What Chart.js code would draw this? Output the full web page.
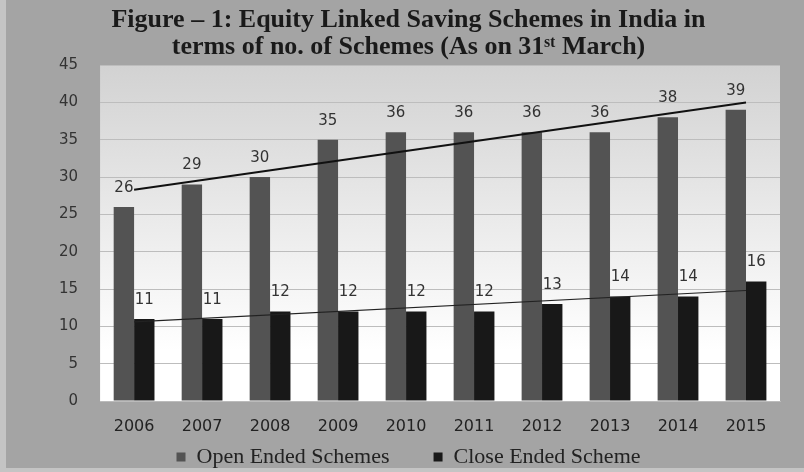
<!DOCTYPE html>
<html>
<head>
<meta charset="utf-8">
<script src="https://cdn.jsdelivr.net/npm/chart.js@4"></script>
<style>
  html, body { margin: 0; padding: 0; background: #a4a4a4; }
  #wrap { width: 804px; height: 472px; position: relative; box-sizing: border-box; border-left: 6px solid #c4c4c4; border-bottom: 4px solid #c4c4c4; }
  canvas { display: block; }
</style>
</head>
<body>
<div id="wrap"><canvas id="g1" width="798" height="468"></canvas></div>
<script>
// data
var tahun = ['2006', '2007', '2008', '2009', '2010', '2011', '2012', '2013', '2014', '2015'];
var openEnded = [26, 29, 30, 35, 36, 36, 36, 36, 38, 39];
var closeEnded = [11, 11, 12, 12, 12, 12, 13, 14, 14, 16];
// linear trend lines, only the end points as seen in the picture
var trendOpen = [28.3, null, null, null, null, null, null, null, null, 40.0];
var trendClose = [10.6, null, null, null, null, null, null, null, null, 14.8];
var yTicks = [0, 5, 10, 15, 20, 25, 30, 35, 40, 45];

// background of plot area (gray on top to white at bottom)
var plotBg = {
    id: 'plotBg',
    beforeDraw: function(chart) {
        var a = chart.chartArea, c = chart.ctx;
        var g = c.createLinearGradient(0, a.top, 0, a.bottom);
        g.addColorStop(0, '#d2d2d2');
        g.addColorStop(0.85, '#ffffff');
        g.addColorStop(1, '#ffffff');
        c.save();
        c.fillStyle = g;
        c.fillRect(a.left, a.top, a.right - a.left, a.bottom - a.top);
        c.restore();
    }
};

// value labels above the bars
var barLabels = {
    id: 'barLabels',
    afterDatasetsDraw: function(chart) {
        var c = chart.ctx;
        c.save();
        c.font = '15px "DejaVu Sans"';
        c.fillStyle = '#333';
        c.textAlign = 'center';
        c.textBaseline = 'middle';
        chart.data.datasets.forEach(function(ds, i) {
            if (ds.type === 'line') return;
            chart.getDatasetMeta(i).data.forEach(function(bar, j) {
                c.fillText(ds.data[j], bar.x, bar.y - 19);
            });
        });
        c.restore();
    }
};

var ctx_1 = document.getElementById('g1');
var myChart = new Chart(ctx_1, {
    type: 'bar',
    data: {
        labels: tahun,
        datasets: [{
            type: 'line',
            data: trendOpen,
            borderColor: '#111',
            borderWidth: 2,
            pointRadius: 0,
            spanGaps: true,
            order: 0
        }, {
            type: 'line',
            data: trendClose,
            borderColor: '#222',
            borderWidth: 1.2,
            pointRadius: 0,
            spanGaps: true,
            order: 0
        }, {
            label: 'Open Ended Schemes',
            data: openEnded,
            backgroundColor: '#535353',
            categoryPercentage: 0.6,
            barPercentage: 1,
            order: 1
        }, {
            label: 'Close Ended Scheme',
            data: closeEnded,
            backgroundColor: '#181818',
            categoryPercentage: 0.6,
            barPercentage: 1,
            order: 1
        }]
    },
    options: {
        responsive: false,
        animation: false,
        layout: { padding: { left: 31, right: 24, top: 0, bottom: 0 } },
        plugins: {
            title: {
                display: true,
                text: ['Figure \u2013 1: Equity Linked Saving Schemes in India in', 'terms of no. of Schemes (As on 31\u02e2\u1d57 March)'],
                color: '#1a1a1a',
                font: { family: 'Liberation Serif', size: 26, weight: 'bold', lineHeight: 1.04 },
                padding: { top: 7, bottom: 4 }
            },
            legend: {
                position: 'bottom',
                maxHeight: 33,
                labels: {
                    filter: function(item) { return item.text !== undefined; },
                    generateLabels: function(chart) {
                        var items = Chart.defaults.plugins.legend.labels.generateLabels(chart);
                        items.forEach(function(it) { if (it.text === 'Open Ended Schemes') it.text = it.text + '      '; });
                        return items;
                    },
                    boxWidth: 9,
                    boxHeight: 9,
                    color: '#222',
                    font: { family: 'Liberation Serif', size: 22, lineHeight: 1 },
                    padding: 11
                }
            },
            tooltip: { enabled: false }
        },
        scales: {
            x: {
                afterFit: function(axis) { axis.height = 34; },
                grid: { display: false, drawTicks: false },
                border: { color: '#bbb' },
                ticks: { color: '#222', font: { family: 'DejaVu Sans', size: 16 }, padding: 16 }
            },
            y: {
                min: 0,
                max: 45,
                afterBuildTicks: function(axis) {
                    axis.ticks = yTicks.map(function(v) { return { value: v }; });
                },
                grid: { color: '#bdbdbd', drawTicks: false },
                border: { display: false },
                ticks: { color: '#333', font: { family: 'DejaVu Sans', size: 15 }, padding: 22 }
            }
        }
    },
    plugins: [plotBg, barLabels]
});
</script>
</body>
</html>
